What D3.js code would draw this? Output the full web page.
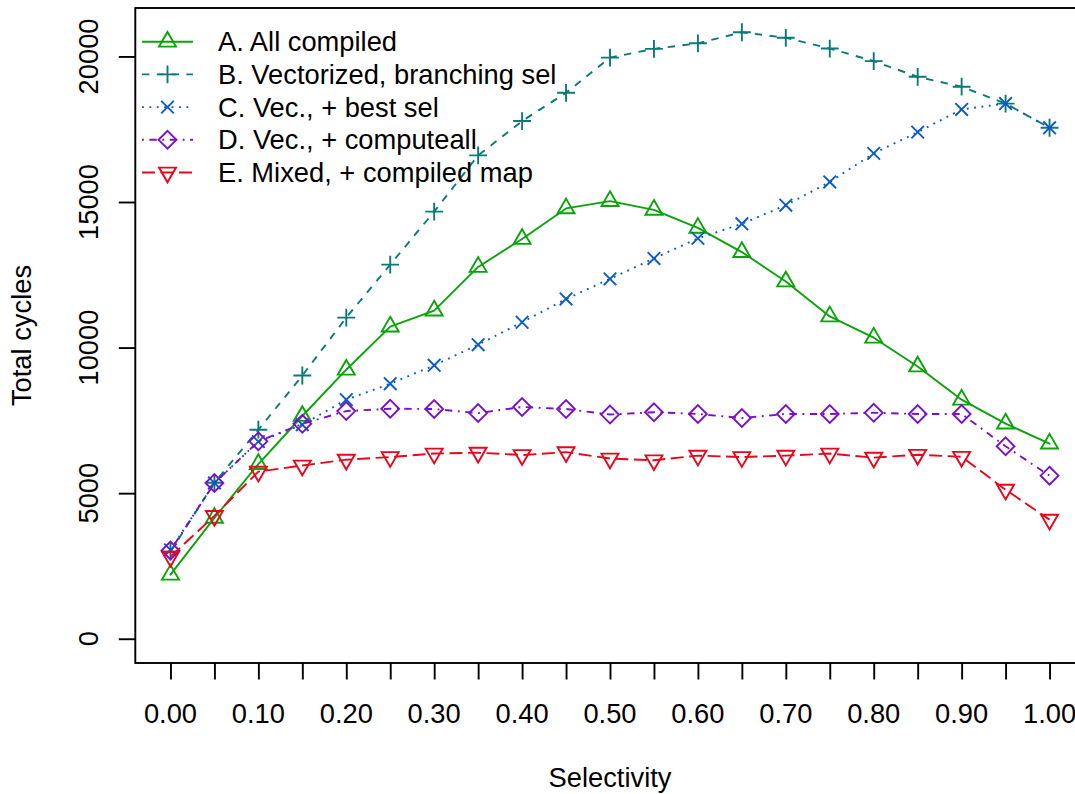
<!DOCTYPE html>
<html>
<head>
<meta charset="utf-8">
<script src="https://cdn.jsdelivr.net/npm/d3@7"></script>
<style>
  html, body { margin: 0; padding: 0; background: #fff; }
  svg { display: block; }
  text { font-family: "Liberation Sans", Arial, Helvetica, sans-serif; fill: #000; }
</style>
</head>
<body>
<svg id="chart" width="1075" height="794"></svg>
<script>
// Selectivity sweep, one value per 0.05 step
const selectivity = [0.00, 0.05, 0.10, 0.15, 0.20, 0.25, 0.30, 0.35, 0.40, 0.45, 0.50,
                     0.55, 0.60, 0.65, 0.70, 0.75, 0.80, 0.85, 0.90, 0.95, 1.00];

// Total cycles per strategy
const allCompiled = [2200, 4150, 6000, 7650, 9240, 10720, 11270, 12770, 13730, 14780, 15030,
                     14730, 14110, 13280, 12270, 11070, 10340, 9350, 8210, 7390, 6700];
const vecBranching = [2990, 5360, 7180, 9040, 11030, 12850, 14670, 16600, 17780, 18750, 19960,
                      20260, 20450, 20830, 20640, 20270, 19840, 19300, 18960, 18380, 17550];
const vecBestSel = [3050, 5350, 6770, 7350, 8210, 8760, 9390, 10100, 10870, 11670, 12360,
                    13060, 13750, 14250, 14890, 15690, 16670, 17400, 18180, 18380, 17550];
const vecComputeAll = [3030, 5350, 6780, 7380, 7820, 7900, 7890, 7750, 7960, 7890, 7700,
                       7780, 7720, 7580, 7720, 7720, 7760, 7720, 7720, 6610, 5600];
const mixedCompiledMap = [2820, 4220, 5740, 5950, 6150, 6240, 6360, 6390, 6310, 6410, 6190,
                          6130, 6290, 6240, 6290, 6360, 6220, 6320, 6250, 5120, 4090];

const seriesNames = ["A. All compiled", "B. Vectorized, branching sel", "C. Vec., + best sel",
                     "D. Vec., + computeall", "E. Mixed, + compiled map"];

// Axis ticks
const xTickValues = d3.range(0, 21).map(i => i * 0.05);
const xTickLabels = ["0.00", "0.10", "0.20", "0.30", "0.40", "0.50", "0.60", "0.70", "0.80", "0.90", "1.00"];
const yTickValues = [0, 5000, 10000, 15000, 20000];

// Styling per series
const colors = ["#0aa30a", "#0b7a75", "#0a5bc4", "#7a10c8", "#e8061c"];
const u = 1.85; // dash unit in px
const dashes = [null, [4 * u, 4 * u], [1 * u, 3 * u], [1 * u, 3 * u, 4 * u, 3 * u], [7 * u, 3 * u]];
const shapes = ["triUp", "plus", "cross", "diamond", "triDown"];

const series = [allCompiled, vecBranching, vecBestSel, vecComputeAll, mixedCompiledMap].map((vals, i) => ({
  name: seriesNames[i],
  color: colors[i],
  dash: dashes[i],
  shape: shapes[i],
  points: vals.map((v, j) => ({ s: selectivity[j], v }))
}));

const svg = d3.select("#chart");
const FONT = 27.3;
const LW = 1.9;

// Plot region (right edge runs just past the canvas)
const plot = { left: 135.3, right: 1084.7, top: 8, bottom: 663 };

const x = d3.scaleLinear().domain([-0.04, 1.04]).range([plot.left, plot.right]);
const yMax = d3.max(series, s => d3.max(s.points, p => p.v));
const yPad = yMax * 0.04;
const y = d3.scaleLinear().domain([-yPad, yMax + yPad]).range([plot.bottom, plot.top]);

// Marker paths
const R = 6.3;
function symbolPath(shape) {
  const r = 1.555 * R, xc = 1.347 * R, yc = 0.778 * R, s2 = Math.SQRT2 * R;
  switch (shape) {
    case "triUp": return `M0,${-r}L${xc},${yc}L${-xc},${yc}Z`;
    case "triDown": return `M0,${r}L${xc},${-yc}L${-xc},${-yc}Z`;
    case "plus": return `M${-s2},0L${s2},0M0,${-s2}L0,${s2}`;
    case "cross": return `M${-R},${-R}L${R},${R}M${-R},${R}L${R},${-R}`;
    case "diamond": return `M0,${-s2}L${s2},0L0,${s2}L${-s2},0Z`;
  }
}

// Frame
svg.append("rect")
  .attr("x", plot.left).attr("y", plot.top)
  .attr("width", plot.right - plot.left).attr("height", plot.bottom - plot.top)
  .attr("fill", "none").attr("stroke", "#000").attr("stroke-width", LW);

// X axis
const xAxis = d3.axisBottom(x)
  .tickValues(xTickValues)
  .tickSize(16.5)
  .tickFormat(() => "");
const gx = svg.append("g").attr("transform", `translate(0,${plot.bottom})`).call(xAxis);
gx.select(".domain").remove();
gx.selectAll(".tick line").attr("stroke", "#000").attr("stroke-width", LW);

svg.append("g").selectAll("text")
  .data(xTickLabels)
  .join("text")
  .attr("x", d => x(+d))
  .attr("y", 723)
  .attr("text-anchor", "middle")
  .attr("font-size", FONT)
  .text(d => d);

// Y axis
const yAxis = d3.axisLeft(y)
  .tickValues(yTickValues)
  .tickSize(16.5)
  .tickFormat(() => "");
const gy = svg.append("g").attr("transform", `translate(${plot.left},0)`).call(yAxis);
gy.select(".domain").remove();
gy.selectAll(".tick line").attr("stroke", "#000").attr("stroke-width", LW);

svg.append("g").selectAll("text")
  .data(yTickValues)
  .join("text")
  .attr("transform", d => `translate(98,${y(d)}) rotate(-90)`)
  .attr("text-anchor", "middle")
  .attr("font-size", FONT)
  .text(d => d);

// Axis titles
svg.append("text")
  .attr("x", (x(0) + x(1)) / 2)
  .attr("y", 787)
  .attr("text-anchor", "middle")
  .attr("font-size", FONT)
  .text("Selectivity");

svg.append("text")
  .attr("transform", `translate(31,${(plot.top + plot.bottom) / 2}) rotate(-90)`)
  .attr("text-anchor", "middle")
  .attr("font-size", FONT)
  .text("Total cycles");

// Series lines and markers
const line = d3.line().x(d => x(d.s)).y(d => y(d.v));
const gSeries = svg.append("g");
series.forEach(s => {
  const g = gSeries.append("g");
  g.append("path")
    .datum(s.points)
    .attr("d", line)
    .attr("fill", "none")
    .attr("stroke", s.color)
    .attr("stroke-width", LW)
    .attr("stroke-linejoin", "round")
    .attr("stroke-linecap", s.dash ? "butt" : "round")
    .attr("stroke-dasharray", s.dash ? s.dash.join(",") : null);
  g.selectAll("path.pt")
    .data(s.points)
    .join("path")
    .attr("class", "pt")
    .attr("transform", d => `translate(${x(d.s)},${y(d.v)})`)
    .attr("d", symbolPath(s.shape))
    .attr("fill", "none")
    .attr("stroke", s.color)
    .attr("stroke-width", LW);
});

// Legend (no box)
const legend = svg.append("g");
const rowY0 = 41.7, rowStep = 32.7;
series.forEach((s, i) => {
  const ry = rowY0 + i * rowStep;
  legend.append("line")
    .attr("x1", 142).attr("x2", 193)
    .attr("y1", ry).attr("y2", ry)
    .attr("stroke", s.color)
    .attr("stroke-width", LW)
    .attr("stroke-dasharray", s.dash ? s.dash.join(",") : null);
  legend.append("path")
    .attr("transform", `translate(167.5,${ry})`)
    .attr("d", symbolPath(s.shape))
    .attr("fill", "none")
    .attr("stroke", s.color)
    .attr("stroke-width", LW);
  legend.append("text")
    .attr("x", 218)
    .attr("y", ry)
    .attr("dy", "0.35em")
    .attr("font-size", FONT)
    .text(s.name);
});
</script>
</body>
</html>
